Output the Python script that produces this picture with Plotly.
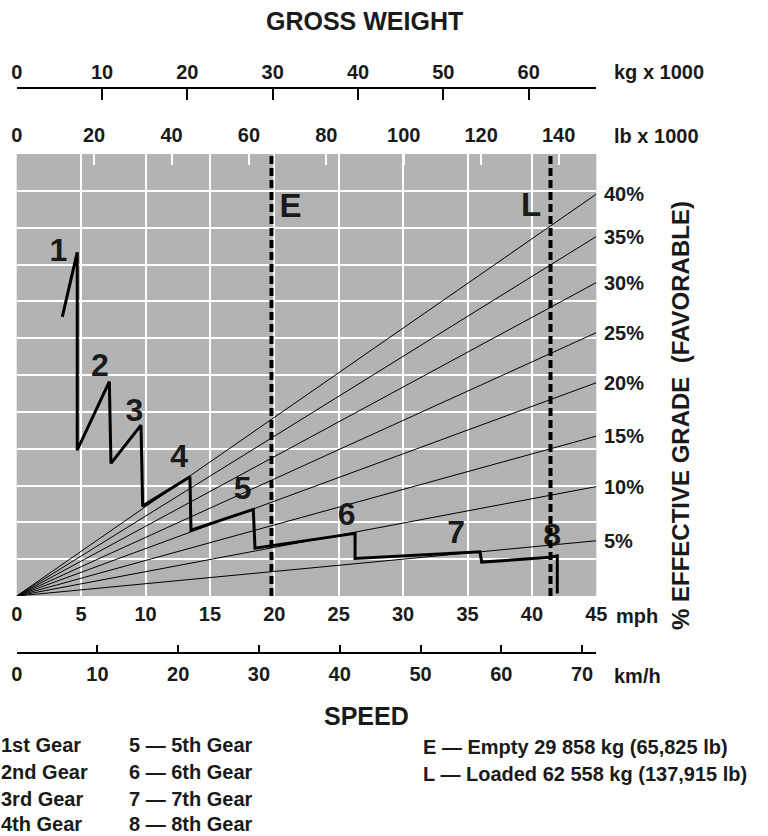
import plotly.graph_objects as go

W, H = 768, 836

# ---------------- data ----------------
mph_ticks = [0, 5, 10, 15, 20, 25, 30, 35, 40, 45]
kmh_ticks = [0, 10, 20, 30, 40, 50, 60, 70]
kg_ticks = [0, 10, 20, 30, 40, 50, 60]
lb_ticks = [0, 20, 40, 60, 80, 100, 120, 140]

grade_labels = ["40%", "35%", "30%", "25%", "20%", "15%", "10%", "5%"]
grade_end = [10.91, 9.76, 8.51, 7.15, 5.79, 4.34, 2.97, 1.50]   # value at 45 mph

curve_mph = [3.54, 4.70, 4.70, 7.19, 7.32, 9.65, 9.78, 13.45, 13.53, 18.37, 18.50,
             26.27, 26.27, 35.97, 36.10, 41.46, 41.97, 41.97]
curve_val = [7.58, 9.33, 3.96, 5.82, 3.60, 4.64, 2.44, 3.24, 1.79, 2.35, 1.30,
             1.70, 1.02, 1.20, 0.92, 1.05, 1.09, 0.07]

gear_names = ["1", "2", "3", "4", "5", "6", "7", "8"]
gear_label_mph = [3.23, 6.47, 9.13, 12.62, 17.55, 25.62, 34.11, 41.58]
gear_label_val = [9.31, 6.19, 4.96, 3.71, 2.86, 2.15, 1.66, 1.57]

weight_names = ["E", "L"]
weight_kg = [29.858, 62.558]
weight_label_kg = [32.09, 60.27]
weight_label_val = [10.52, 10.53]

legend_col1 = ["1st Gear", "2nd Gear", "3rd Gear", "4th Gear"]
legend_col2 = ["5 \u2014 5th Gear", "6 \u2014 6th Gear", "7 \u2014 7th Gear", "8 \u2014 8th Gear"]
legend_col3 = ["E \u2014 Empty 29 858 kg (65,825 lb)", "L \u2014 Loaded 62 558 kg (137,915 lb)"]

# ---------------- geometry ----------------
X0, X1 = 16.7, 596.3      # plot left/right (px)
YT, YB = 154.0, 596.0     # plot top/bottom (px)
MPH_MAX = 45
KG_PX = 8.533             # px per 1000 kg
KMH_PX = 8.076            # px per km/h
kg_max = (X1 - X0) / KG_PX
lb_max = kg_max * 2.20462
kmh_max = (X1 - X0) / KMH_PX

FONT = "Liberation Sans, Arial, Helvetica, sans-serif"
INK = "#1a1a1a"
GRAY = "#b3b3b3"


def px(x):
    return x / W


def py(y):
    return 1 - y / H


fig = go.Figure()

# grade lines
for lab, ye in zip(grade_labels, grade_end):
    fig.add_trace(go.Scatter(x=[0, MPH_MAX], y=[0, ye], mode="lines",
                             line=dict(color="black", width=1), hoverinfo="skip",
                             showlegend=False))

# E / L dashed lines on the kg axis
for nm, w in zip(weight_names, weight_kg):
    fig.add_trace(go.Scatter(x=[w, w], y=[0, 12], xaxis="x3", yaxis="y", mode="lines",
                             line=dict(color="black", width=4, dash="8px,4px"),
                             hoverinfo="skip", showlegend=False))

# retarder curve
fig.add_trace(go.Scatter(x=curve_mph, y=curve_val, mode="lines",
                         line=dict(color="black", width=3), hoverinfo="skip",
                         showlegend=False))

# gear numbers
fig.add_trace(go.Scatter(x=gear_label_mph, y=gear_label_val, mode="text", text=gear_names,
                         textfont=dict(family=FONT, size=32, color=INK, weight="bold"),
                         textposition="middle center", hoverinfo="skip", showlegend=False))

# E / L labels
fig.add_trace(go.Scatter(x=weight_label_kg, y=weight_label_val, xaxis="x3", yaxis="y",
                         mode="text", text=weight_names,
                         textfont=dict(family=FONT, size=33, color=INK, weight="bold"),
                         textposition="middle center", hoverinfo="skip", showlegend=False))

tickfont = dict(family=FONT, size=20, color=INK, weight="bold")
xdom = [px(X0), px(X1)]

fig.update_layout(
    width=W, height=H,
    margin=dict(l=0, r=0, t=0, b=0, pad=0, autoexpand=False),
    paper_bgcolor="white",
    plot_bgcolor=GRAY,
    showlegend=False,
    xaxis=dict(domain=xdom, range=[0, MPH_MAX], tickvals=mph_ticks, ticks="",
               showgrid=True, gridcolor="white", gridwidth=2, zeroline=False,
               showline=False, tickfont=tickfont, ticklabelstandoff=4,
               automargin=False, fixedrange=True),
    yaxis=dict(domain=[py(YB), py(YT)], range=[0, 12], dtick=1, showticklabels=False,
               showgrid=True, gridcolor="white", gridwidth=2, zeroline=False,
               ticks="", automargin=False, fixedrange=True),
    xaxis2=dict(overlaying="x", anchor="free", position=py(653.3), side="bottom",
                domain=xdom, range=[0, kmh_max], tickvals=kmh_ticks, ticks="inside",
                ticklen=8, tickwidth=1.5, tickcolor="black", showline=True,
                linecolor="black", linewidth=1.5, showgrid=False, zeroline=False,
                tickfont=tickfont, ticklabelstandoff=3, automargin=False, fixedrange=True),
    xaxis3=dict(overlaying="x", anchor="free", position=py(88.3), side="top",
                domain=xdom, range=[0, kg_max], tickvals=kg_ticks, ticks="inside",
                ticklen=11, tickwidth=1.5, tickcolor="black", showline=True,
                linecolor="black", linewidth=1.5, showgrid=False, zeroline=False,
                tickfont=tickfont, ticklabelstandoff=1, automargin=False, fixedrange=True),
    xaxis4=dict(overlaying="x", anchor="y", side="top",
                domain=xdom, range=[0, lb_max], tickvals=lb_ticks, ticks="inside",
                ticklen=11, tickwidth=2, tickcolor="white", showline=False,
                showgrid=False, zeroline=False,
                tickfont=tickfont, ticklabelstandoff=7, automargin=False, fixedrange=True),
)
# invisible traces to activate xaxis4 and xaxis2
fig.add_trace(go.Scatter(x=[0], y=[0], xaxis="x4", yaxis="y", mode="markers",
                         marker=dict(opacity=0), hoverinfo="skip", showlegend=False))
fig.add_trace(go.Scatter(x=[0], y=[0], xaxis="x2", yaxis="y", mode="markers",
                         marker=dict(opacity=0), hoverinfo="skip", showlegend=False))

ann = []
# grade labels
for lab, ye in zip(grade_labels, grade_end):
    ann.append(dict(x=MPH_MAX, y=ye, xref="x", yref="y", text=lab, showarrow=False,
                    xanchor="left", yanchor="middle", xshift=6,
                    font=tickfont))


def txt(x, y, s, size=20, xanchor="left", angle=0):
    return dict(x=px(x), y=py(y), xref="paper", yref="paper", text=s, showarrow=False,
                xanchor=xanchor, yanchor="middle", textangle=angle,
                font=dict(family=FONT, size=size, color=INK, weight="bold"))


ann.append(txt(364, 21, "GROSS WEIGHT", 25, "center"))
ann.append(txt(612, 72, "kg x 1000"))
ann.append(txt(612, 136, "lb x 1000"))
ann.append(txt(614, 616, "mph"))
ann.append(txt(612, 676, "km/h"))
ann.append(txt(366, 716, "SPEED", 25, "center"))
ann.append(txt(681, 416, "% EFFECTIVE GRADE&nbsp;&nbsp;(FAVORABLE)", 24, "center", -90))

rows = [745, 772, 799, 824]
for s, y in zip(legend_col1, rows):
    ann.append(txt(-1, y, s))
for s, y in zip(legend_col2, rows):
    ann.append(txt(127, y, s))
for s, y in zip(legend_col3, rows[:2]):
    ann.append(txt(421, y + 2, s))

fig.update_layout(annotations=ann)

fig.write_html("out.html",
               config={"displayModeBar": False},
               post_script="document.body.style.margin='0px';"
                           "document.body.style.overflow='hidden';")
